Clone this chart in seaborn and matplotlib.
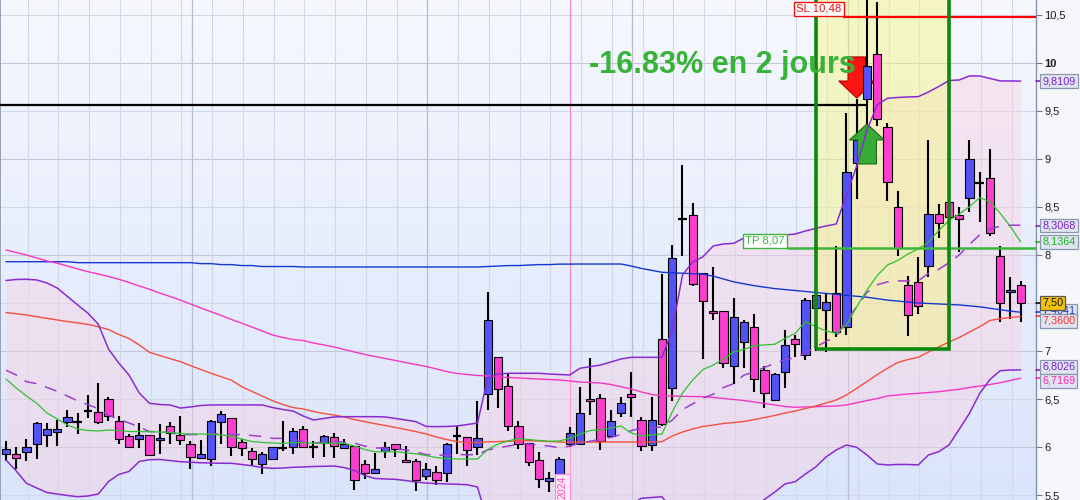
import matplotlib.pyplot as plt
import matplotlib.transforms as mtransforms
from matplotlib.colors import LinearSegmentedColormap
from matplotlib.patches import Rectangle
import numpy as np
import pandas as pd
import seaborn as sns

# bougies journalieres (100 seances)
opens = [5.93, 5.93, 5.95, 6.03, 6.13, 6.16, 6.26, 6.26, 6.37, 6.36,
         6.50, 6.27, 6.11, 6.08, 6.12, 6.07, 6.22, 6.13, 6.03, 5.89,
         5.87, 6.26, 6.30, 6.05, 5.96, 5.82, 5.87, 5.99, 6.00, 6.19,
         6.00, 6.04, 6.10, 5.99, 6.01, 5.82, 5.73, 5.96, 6.03, 5.86,
         5.85, 5.70, 5.74, 5.73, 6.11, 6.10, 6.00, 6.55, 6.94, 6.64,
         6.22, 6.04, 5.86, 5.65, 5.69, 6.03, 6.03, 6.50, 6.51, 6.11,
         6.35, 6.55, 6.28, 6.02, 7.13, 6.61, 8.37, 8.42, 7.81, 7.42,
         7.42, 6.84, 7.09, 7.25, 6.80, 6.49, 6.78, 7.13, 6.96, 7.45,
         7.43, 7.60, 7.25, 8.96, 9.63, 10.09, 9.33, 8.50, 7.69, 7.72,
         7.89, 8.43, 8.55, 8.42, 8.59, 8.75, 8.80, 7.99, 7.61, 7.69]
highs = [6.06, 6.00, 6.08, 6.26, 6.25, 6.28, 6.39, 6.35, 6.54, 6.67,
         6.52, 6.32, 6.14, 6.25, 6.12, 6.24, 6.26, 6.32, 6.06, 6.07,
         6.28, 6.38, 6.30, 6.08, 5.99, 5.95, 6.00, 6.27, 6.20, 6.22,
         6.06, 6.13, 6.15, 6.08, 6.01, 5.86, 5.94, 6.05, 6.03, 6.01,
         5.88, 5.83, 5.80, 6.04, 6.22, 6.10, 6.48, 7.61, 6.94, 6.76,
         6.27, 6.04, 5.95, 5.74, 5.90, 6.21, 6.63, 6.93, 6.55, 6.39,
         6.52, 6.78, 6.31, 6.52, 7.80, 8.10, 8.94, 8.54, 7.81, 7.88,
         7.42, 7.55, 7.32, 7.39, 6.84, 6.77, 7.22, 7.17, 7.55, 7.58,
         7.60, 8.09, 9.48, 9.62, 10.75, 10.64, 9.37, 8.67, 7.78, 7.98,
         9.20, 8.53, 8.56, 8.50, 9.20, 8.86, 9.10, 8.09, 7.77, 7.73]
lows = [5.85, 5.77, 5.85, 5.88, 6.00, 6.01, 6.21, 6.14, 6.30, 6.24,
        6.27, 6.03, 6.00, 5.99, 5.91, 5.93, 6.03, 6.02, 5.77, 5.89,
        5.80, 6.03, 5.91, 5.91, 5.81, 5.72, 5.86, 5.96, 5.93, 6.00,
        5.89, 5.90, 5.89, 5.99, 5.55, 5.67, 5.72, 5.89, 5.90, 5.83,
        5.54, 5.66, 5.60, 5.64, 5.93, 5.80, 5.92, 6.39, 6.41, 6.17,
        5.98, 5.80, 5.57, 5.53, 5.66, 6.00, 6.03, 6.33, 5.97, 6.11,
        6.31, 6.31, 5.96, 5.96, 6.22, 6.48, 7.99, 7.68, 6.92, 7.32,
        6.82, 6.66, 6.82, 6.57, 6.41, 6.48, 6.61, 6.94, 6.91, 7.00,
        6.99, 7.15, 7.17, 8.58, 9.35, 9.34, 8.56, 7.99, 7.16, 7.39,
        7.77, 8.18, 8.39, 8.03, 8.45, 8.34, 8.20, 7.30, 7.33, 7.30]
closes = [5.98, 5.89, 6.00, 6.25, 6.19, 6.19, 6.31, 6.26, 6.37, 6.26,
          6.32, 6.08, 6.00, 6.13, 5.92, 6.09, 6.15, 6.07, 5.90, 5.93,
          6.27, 6.34, 6.00, 5.99, 5.87, 5.93, 6.00, 5.99, 6.17, 6.00,
          6.00, 6.11, 6.01, 6.03, 5.66, 5.73, 5.77, 6.00, 5.98, 5.84,
          5.66, 5.77, 5.66, 6.03, 6.11, 5.97, 6.09, 7.32, 6.60, 6.22,
          6.03, 5.84, 5.67, 5.68, 5.88, 6.15, 6.35, 6.48, 6.06, 6.27,
          6.46, 6.52, 6.01, 6.28, 6.24, 7.97, 8.37, 7.70, 7.52, 7.40,
          6.88, 7.35, 7.30, 6.71, 6.56, 6.76, 7.06, 7.07, 7.53, 7.58,
          7.51, 7.20, 8.86, 9.20, 9.97, 9.42, 8.76, 8.07, 7.38, 7.47,
          8.43, 8.33, 8.40, 8.38, 9.00, 8.75, 8.23, 7.50, 7.64, 7.50]

# indicateurs (valeur par seance)
ma_blue = [7.93, 7.93, 7.93, 7.93, 7.93, 7.93, 7.93, 7.92, 7.92, 7.92,
           7.92, 7.92, 7.92, 7.92, 7.92, 7.92, 7.92, 7.92, 7.92, 7.91,
           7.91, 7.90, 7.90, 7.89, 7.89, 7.88, 7.88, 7.88, 7.88, 7.875,
           7.875, 7.875, 7.875, 7.875, 7.875, 7.875, 7.875, 7.875, 7.875, 7.875,
           7.875, 7.875, 7.875, 7.875, 7.875, 7.875, 7.875, 7.88, 7.885, 7.89,
           7.89, 7.895, 7.90, 7.90, 7.905, 7.905, 7.906, 7.906, 7.906, 7.906,
           7.906, 7.885, 7.86, 7.84, 7.82, 7.815, 7.81, 7.805, 7.80, 7.78,
           7.75, 7.72, 7.70, 7.68, 7.665, 7.65, 7.64, 7.63, 7.62, 7.61,
           7.60, 7.59, 7.58, 7.57, 7.56, 7.545, 7.53, 7.52, 7.51, 7.50,
           7.495, 7.49, 7.485, 7.48, 7.47, 7.46, 7.445, 7.43, 7.415, 7.404]
ma_magenta = [8.052, 8.026, 8.0, 7.969, 7.938, 7.914, 7.885, 7.854, 7.826, 7.802,
              7.776, 7.747, 7.714, 7.677, 7.643, 7.604, 7.568, 7.531, 7.49, 7.448,
              7.409, 7.37, 7.328, 7.289, 7.25, 7.208, 7.167, 7.141, 7.12, 7.109,
              7.083, 7.063, 7.042, 7.016, 6.99, 6.964, 6.943, 6.922, 6.901, 6.88,
              6.859, 6.839, 6.813, 6.786, 6.766, 6.755, 6.745, 6.74, 6.729, 6.724,
              6.719, 6.714, 6.708, 6.703, 6.698, 6.688, 6.677, 6.672, 6.667, 6.651,
              6.628, 6.604, 6.573, 6.547, 6.534, 6.531, 6.528, 6.526, 6.524, 6.516,
              6.505, 6.495, 6.484, 6.469, 6.453, 6.438, 6.422, 6.414, 6.417, 6.42,
              6.424, 6.427, 6.438, 6.461, 6.484, 6.505, 6.531, 6.542, 6.552, 6.559,
              6.568, 6.576, 6.589, 6.601, 6.62, 6.635, 6.651, 6.67, 6.693, 6.717]
ma_red = [7.401, 7.388, 7.375, 7.357, 7.34, 7.323, 7.307, 7.292, 7.278, 7.253,
          7.224, 7.172, 7.13, 7.063, 6.986, 6.953, 6.921, 6.889, 6.849, 6.807,
          6.768, 6.732, 6.695, 6.628, 6.578, 6.531, 6.482, 6.443, 6.411, 6.396,
          6.37, 6.349, 6.333, 6.313, 6.286, 6.264, 6.243, 6.224, 6.203, 6.182,
          6.16, 6.135, 6.104, 6.078, 6.057, 6.045, 6.047, 6.054, 6.057, 6.06,
          6.063, 6.066, 6.063, 6.057, 6.052, 6.049, 6.052, 6.052, 6.052, 6.052,
          6.052, 6.052, 6.052, 6.052, 6.055, 6.115, 6.156, 6.188, 6.214, 6.229,
          6.245, 6.255, 6.266, 6.286, 6.307, 6.328, 6.354, 6.375, 6.401, 6.427,
          6.458, 6.49, 6.542, 6.611, 6.682, 6.755, 6.82, 6.88, 6.911, 6.934,
          6.99, 7.042, 7.094, 7.141, 7.198, 7.253, 7.318, 7.336, 7.349, 7.36]
ma_green = [6.708, 6.615, 6.531, 6.455, 6.354, 6.292, 6.229, 6.188, 6.172, 6.167,
            6.177, 6.172, 6.161, 6.16, 6.16, 6.156, 6.151, 6.141, 6.135, 6.135,
            6.133, 6.125, 6.115, 6.083, 6.057, 6.047, 6.042, 6.036, 6.047, 6.045,
            6.04, 6.039, 6.039, 6.039, 6.01, 5.974, 5.951, 5.951, 5.951, 5.94,
            5.929, 5.911, 5.89, 5.88, 5.875, 5.875, 5.875, 5.974, 6.031, 6.063,
            6.089, 6.078, 6.068, 6.06, 6.063, 6.091, 6.135, 6.172, 6.177, 6.198,
            6.219, 6.146, 6.115, 6.125, 6.135, 6.365, 6.563, 6.698, 6.807, 6.854,
            6.917, 6.99, 7.016, 7.057, 7.063, 7.07, 7.132, 7.184, 7.305, 7.255,
            7.208, 7.184, 7.271, 7.461, 7.635, 7.786, 7.896, 7.943, 8.01, 8.063,
            8.135, 8.255, 8.359, 8.427, 8.503, 8.597, 8.555, 8.434, 8.295, 8.136]
bb_up = [7.734, 7.745, 7.747, 7.74, 7.708, 7.656, 7.568, 7.479, 7.393, 7.281,
         7.021, 6.875, 6.75, 6.563, 6.455, 6.443, 6.438, 6.406, 6.417, 6.432,
         6.438, 6.438, 6.438, 6.438, 6.438, 6.438, 6.411, 6.391, 6.375, 6.323,
         6.281, 6.297, 6.313, 6.316, 6.316, 6.316, 6.316, 6.313, 6.297, 6.281,
         6.264, 6.214, 6.212, 6.214, 6.219, 6.234, 6.25, 6.719, 6.76, 6.768,
         6.768, 6.768, 6.768, 6.76, 6.755, 6.75, 6.82, 6.837, 6.854, 6.885,
         6.917, 6.934, 6.934, 6.934, 6.934, 7.219, 7.792, 7.927, 7.982, 8.094,
         8.115, 8.122, 8.177, 8.208, 8.208, 8.208, 8.208, 8.219, 8.25, 8.278,
         8.302, 8.323, 8.625, 8.927, 9.302, 9.563, 9.632, 9.641, 9.646, 9.649,
         9.698, 9.755, 9.818, 9.823, 9.865, 9.865, 9.839, 9.813, 9.813, 9.811]
bb_low = [5.865, 5.75, 5.622, 5.573, 5.526, 5.51, 5.495, 5.482, 5.49, 5.51,
          5.64, 5.714, 5.745, 5.849, 5.868, 5.87, 5.859, 5.847, 5.842, 5.836,
          5.833, 5.831, 5.83, 5.818, 5.805, 5.786, 5.778, 5.781, 5.789, 5.792,
          5.797, 5.799, 5.802, 5.786, 5.755, 5.703, 5.672, 5.667, 5.663, 5.651,
          5.635, 5.625, 5.62, 5.615, 5.612, 5.607, 5.583, 5.219, 5.219, 5.253,
          5.295, 5.295, 5.274, 5.26, 5.224, 5.271, 5.264, 5.289, 5.313, 5.323,
          5.333, 5.40, 5.466, 5.474, 5.482, 5.344, 4.979, 4.969, 5.038, 5.01,
          5.115, 5.19, 5.323, 5.354, 5.455, 5.53, 5.615, 5.639, 5.719, 5.792,
          5.896, 5.969, 6.021, 5.997, 5.917, 5.823, 5.813, 5.818, 5.818, 5.813,
          5.917, 5.951, 6.021, 6.185, 6.351, 6.559, 6.703, 6.795, 6.802, 6.803]
bb_mid = [6.80, 6.75, 6.68, 6.66, 6.62, 6.58, 6.53, 6.48, 6.44, 6.40,
          6.33, 6.29, 6.25, 6.21, 6.16, 6.16, 6.15, 6.13, 6.13, 6.13,
          6.14, 6.13, 6.13, 6.13, 6.12, 6.11, 6.09, 6.09, 6.08, 6.06,
          6.04, 6.05, 6.06, 6.05, 6.04, 6.01, 5.99, 5.99, 5.98, 5.97,
          5.95, 5.92, 5.92, 5.91, 5.92, 5.92, 5.92, 5.97, 5.99, 6.01,
          6.03, 6.03, 6.02, 6.01, 5.99, 6.01, 6.04, 6.06, 6.08, 6.10,
          6.13, 6.17, 6.20, 6.20, 6.21, 6.28, 6.39, 6.45, 6.51, 6.55,
          6.62, 6.66, 6.75, 6.78, 6.83, 6.87, 6.91, 6.93, 6.98, 7.04,
          7.10, 7.15, 7.32, 7.46, 7.61, 7.69, 7.72, 7.73, 7.73, 7.73,
          7.81, 7.85, 7.92, 8.00, 8.11, 8.21, 8.27, 8.30, 8.31, 8.31]

price_ticks = [5.5, 6, 6.5, 7, 7.5, 8, 8.5, 9, 9.5, 10, 10.5]
sl_level = 10.48
tp_level = 8.07
entry_level = 9.5625
box_start, box_end, box_floor = 79.0, 92.05, 7.02
year_mark = 55.07
month_marks = [18, 41, 61, 82]

tag_values = [9.8109, 8.3068, 8.1364, 7.50, 7.4041, 7.3600, 6.8026, 6.7169]
tag_texts = ['9,8109', '8,3068', '8,1364', '7,50', '7,4041', '7,3600', '6,8026', '6,7169']
tag_colors = ['#7a22c8', '#7a22c8', '#22b322', '#111111', '#1c3fd0', '#ff3030', '#7a22c8', '#ff22b8']
tag_shift = [0, 0, 0, 0, 0.013, -0.047, 0.031, -0.029]
tag_zorder = [10, 10, 10, 13, 11, 12, 11, 12]

sns.set_theme(style='white')
plt.rcParams['font.family'] = ['Liberation Sans', 'DejaVu Sans']

df = pd.DataFrame({'open': opens, 'high': highs, 'low': lows, 'close': closes})
df['idx'] = np.arange(len(df))

fig = plt.figure(figsize=(10.8, 5), dpi=100, facecolor='#f6f7fb')
ax = fig.add_axes([0, 0, 1036 / 1080, 1])
xmin, xmax = -0.585, 100.49
ymin, ymax = 5.448, 10.656

# fond degrade
grad = np.linspace(0, 1, 256).reshape(-1, 1)
bg = LinearSegmentedColormap.from_list('bg', ['#dae4fb', '#f6f8fe'])
ax.imshow(grad, extent=[xmin, xmax, ymin, ymax], origin='lower', aspect='auto', cmap=bg, zorder=0)

# grille
for p in price_ticks:
    ax.axhline(p, color='#c2c8da' if p == int(p) else '#d3d8e6', lw=0.8, zorder=0.5)
for i in range(2, 100, 3):
    ax.axvline(i + 0.1, color='#d3d8e6', lw=0.8, zorder=0.5)
for i in month_marks:
    ax.axvline(i + 0.1, color='#b6bdce', lw=0.9, zorder=0.6)
ax.axvline(year_mark, color='#ff80d0', lw=0.9, zorder=0.7)

# bandes de bollinger
ax.fill_between(df['idx'], bb_low, bb_up, color='#fad0e0', alpha=0.42, lw=0, zorder=1)

# zone du trade
ax.add_patch(Rectangle((box_start, box_floor), box_end - box_start, 5, fc='#f6f684', alpha=0.48,
                       ec='none', zorder=1.2))

# fleches
ax.arrow(83.0, 10.063, 0, 9.635 - 10.063, width=1.7, head_width=3.5, head_length=0.177,
         length_includes_head=True, fc='#ff1414', ec='#b00000', lw=0.8, zorder=2.8)

# bougies
up = df['close'] > df['open']
dn = df['close'] < df['open']
doji = df['close'] == df['open']
ax.vlines(df['idx'], df['low'], df['high'], color='black', lw=1.5, zorder=3)
ax.bar(df['idx'][up], (df['close'] - df['open'])[up], bottom=df['open'][up], width=0.8,
       color='#5252f7', edgecolor='black', lw=0.8, zorder=4)
ax.bar(df['idx'][dn], (df['open'] - df['close'])[dn], bottom=df['close'][dn], width=0.8,
       color='#fb3ecd', edgecolor='black', lw=0.8, zorder=4)
ax.hlines(df['close'][doji], df['idx'][doji] - 0.42, df['idx'][doji] + 0.42, color='black',
          lw=1.6, zorder=4)

ax.arrow(84.0, 8.948, 0, 9.365 - 8.948, width=1.85, head_width=3.4, head_length=0.167,
         length_includes_head=True, fc='#36ab36', ec='#1a6b1a', lw=0.8, zorder=4.5)

# moyennes mobiles
sns.lineplot(x=df['idx'], y=ma_blue, color='#1438d0', lw=1.0, ax=ax, zorder=5, legend=False)
sns.lineplot(x=df['idx'], y=ma_magenta, color='#f536c4', lw=1.0, ax=ax, zorder=5, legend=False)
sns.lineplot(x=df['idx'], y=ma_red, color='#f4503c', lw=1.0, ax=ax, zorder=5, legend=False)
sns.lineplot(x=df['idx'], y=bb_up, color='#8a2bd0', lw=1.1, ax=ax, zorder=5, legend=False)
sns.lineplot(x=df['idx'], y=bb_low, color='#8a2bd0', lw=1.1, ax=ax, zorder=5, legend=False)
sns.lineplot(x=df['idx'], y=bb_mid, color='#9a3fd2', lw=1.1, ax=ax, zorder=5, legend=False,
             linestyle=(0, (8, 6)))
sns.lineplot(x=df['idx'], y=ma_green, color='#2fc22f', lw=0.9, ax=ax, zorder=5, legend=False)

# niveaux
ax.hlines(entry_level, xmin, 84.1, color='black', lw=1.6, zorder=5.5)
ax.hlines(sl_level, 81.7, xmax, color='#ff0000', lw=1.6, zorder=5.5)
ax.hlines(tp_level, 76.2, xmax, color='#3cb53c', lw=1.8, zorder=5.5)
ax.add_patch(Rectangle((box_start, box_floor), box_end - box_start, 5, fill=False,
                       ec='#0e870e', lw=2.6, zorder=6))

ax.text(79.3, 10.5625, 'SL 10,48', fontsize=8.2, color='#ee1111', ha='center', va='center',
        zorder=8, bbox=dict(boxstyle='square,pad=0.2', fc='white', ec='#ee1111', lw=1))
ax.text(74.05, 8.146, 'TP 8,07', fontsize=8.2, color='#3cb53c', ha='center', va='center',
        zorder=8, bbox=dict(boxstyle='square,pad=0.2', fc='white', ec='#3cb53c', lw=1))
ax.text(56.9, 9.899, '-16.83% en 2 jours', fontsize=22, fontweight='bold', color='#37b337',
        ha='left', va='baseline', zorder=9)
ax.text(54.3, ymin + 0.01, '2024', rotation=90, fontsize=7.5, color='#ff4fbf', ha='center',
        va='bottom', zorder=8, bbox=dict(boxstyle='square,pad=0.2', fc='#fcebf6', ec='#ff8fd6', lw=0.8))

# axe des prix a droite
ax.set_xlim(xmin, xmax)
ax.set_ylim(ymin, ymax)
ax.set_xticks([])
ax.set_xlabel('')
ax.set_ylabel('')
ax.yaxis.tick_right()
ax.set_yticks(price_ticks)
ax.set_yticklabels([f'{p:g}'.replace('.', ',') for p in price_ticks])
for lab in ax.get_yticklabels():
    if lab.get_text() == '10':
        lab.set_fontweight('bold')
ax.tick_params(axis='y', right=True, left=False, length=4, width=0.8, color='#6b7890',
               labelsize=8, pad=2, labelcolor='#1a1a1a')
for side in ['top', 'bottom']:
    ax.spines[side].set_visible(False)
ax.spines['right'].set_color('#8593aa')
ax.spines['left'].set_color('#8593aa')
ax.spines['right'].set_linewidth(1)
ax.spines['left'].set_linewidth(1.2)

# etiquettes de valeurs (empilees comme sur la plateforme)
blend = mtransforms.blended_transform_factory(ax.transAxes, ax.transData)
for v, t, c, s, z in zip(tag_values, tag_texts, tag_colors, tag_shift, tag_zorder):
    ax.plot([1.0, 1.0055], [v, v], transform=blend, color=c, lw=1.2, clip_on=False, zorder=9)
    face = '#f4c20d' if t == '7,50' else '#dfe4f0'
    edge = '#555555' if t == '7,50' else '#8a97ad'
    ax.text(1.0062, v + s, t, transform=blend, fontsize=7.8, color=c, ha='left', va='center',
            clip_on=False, zorder=z,
            bbox=dict(boxstyle='square,pad=0.18', fc=face, ec=edge, lw=0.9))

fig.savefig('out.png', dpi=100, facecolor=fig.get_facecolor())
